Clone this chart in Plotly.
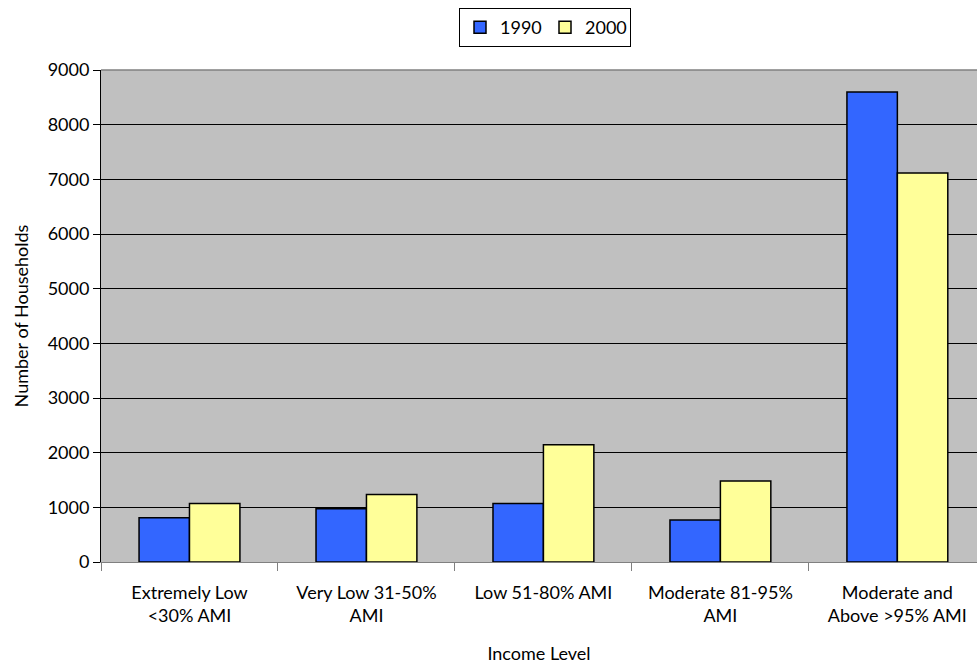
import plotly.graph_objects as go

categories = [
    "Extremely Low<br><30% AMI",
    "Very Low 31-50%<br>AMI",
    "Low 51-80% AMI",
    "Moderate 81-95%<br>AMI",
    "Moderate and<br>Above >95% AMI",
]
households_1990 = [810, 975, 1068, 768, 8596]
households_2000 = [1070, 1235, 2146, 1481, 7115]
y_ticks = [0, 1000, 2000, 3000, 4000, 5000, 6000, 7000, 8000, 9000]

FONT = "Lato, 'Open Sans', sans-serif"
FS = 18

fig = go.Figure()
fig.add_trace(go.Bar(
    name="1990", x=categories, y=households_1990,
    marker=dict(color="#3366FF", line=dict(color="#000000", width=1.5)),
))
fig.add_trace(go.Bar(
    name="2000", x=categories, y=households_2000,
    marker=dict(color="#FFFF99", line=dict(color="#000000", width=1.5)),
))

fig.update_layout(
    width=977, height=668,
    margin=dict(l=101, r=0, t=70, b=106),
    paper_bgcolor="white",
    plot_bgcolor="#C0C0C0",
    font=dict(family=FONT, size=FS, color="#000000"),
    barmode="group",
    bargap=0.43,
    bargroupgap=0,
    showlegend=True,
    legend=dict(
        orientation="h",
        xref="container", yref="container",
        x=545 / 977, xanchor="center",
        y=1 - 8 / 668, yanchor="top",
        bgcolor="white",
        bordercolor="#000000", borderwidth=1,
        font=dict(family=FONT, size=FS),
        itemwidth=30,
        entrywidth=40,
        entrywidthmode="pixels",
    ),
)

fig.update_xaxes(
    range=[-0.5, 4.45],
    tickson="boundaries",
    ticks="outside", ticklen=8, tickcolor="#808080", tickwidth=1,
    ticklabelstandoff=14,
    showline=True, linecolor="#808080", linewidth=1,
    showgrid=False,
    title=dict(text="Income Level", font=dict(family=FONT, size=FS), standoff=22),
    tickfont=dict(family=FONT, size=FS),
)
fig.update_yaxes(
    range=[0, 9000],
    tickvals=y_ticks,
    ticks="outside", ticklen=7, tickcolor="#000000", tickwidth=1,
    showline=True, linecolor="#000000", linewidth=1,
    showgrid=True, gridcolor="#000000", gridwidth=1,
    zeroline=False,
    title=dict(text="Number of Households", font=dict(family=FONT, size=FS), standoff=14),
    tickfont=dict(family=FONT, size=FS),
)

# gray frame line along the top of the plotting area
fig.add_shape(type="line", xref="paper", yref="paper", x0=0, x1=1, y0=1, y1=1,
              line=dict(color="#808080", width=1.5))

fig.write_html("out.html")
